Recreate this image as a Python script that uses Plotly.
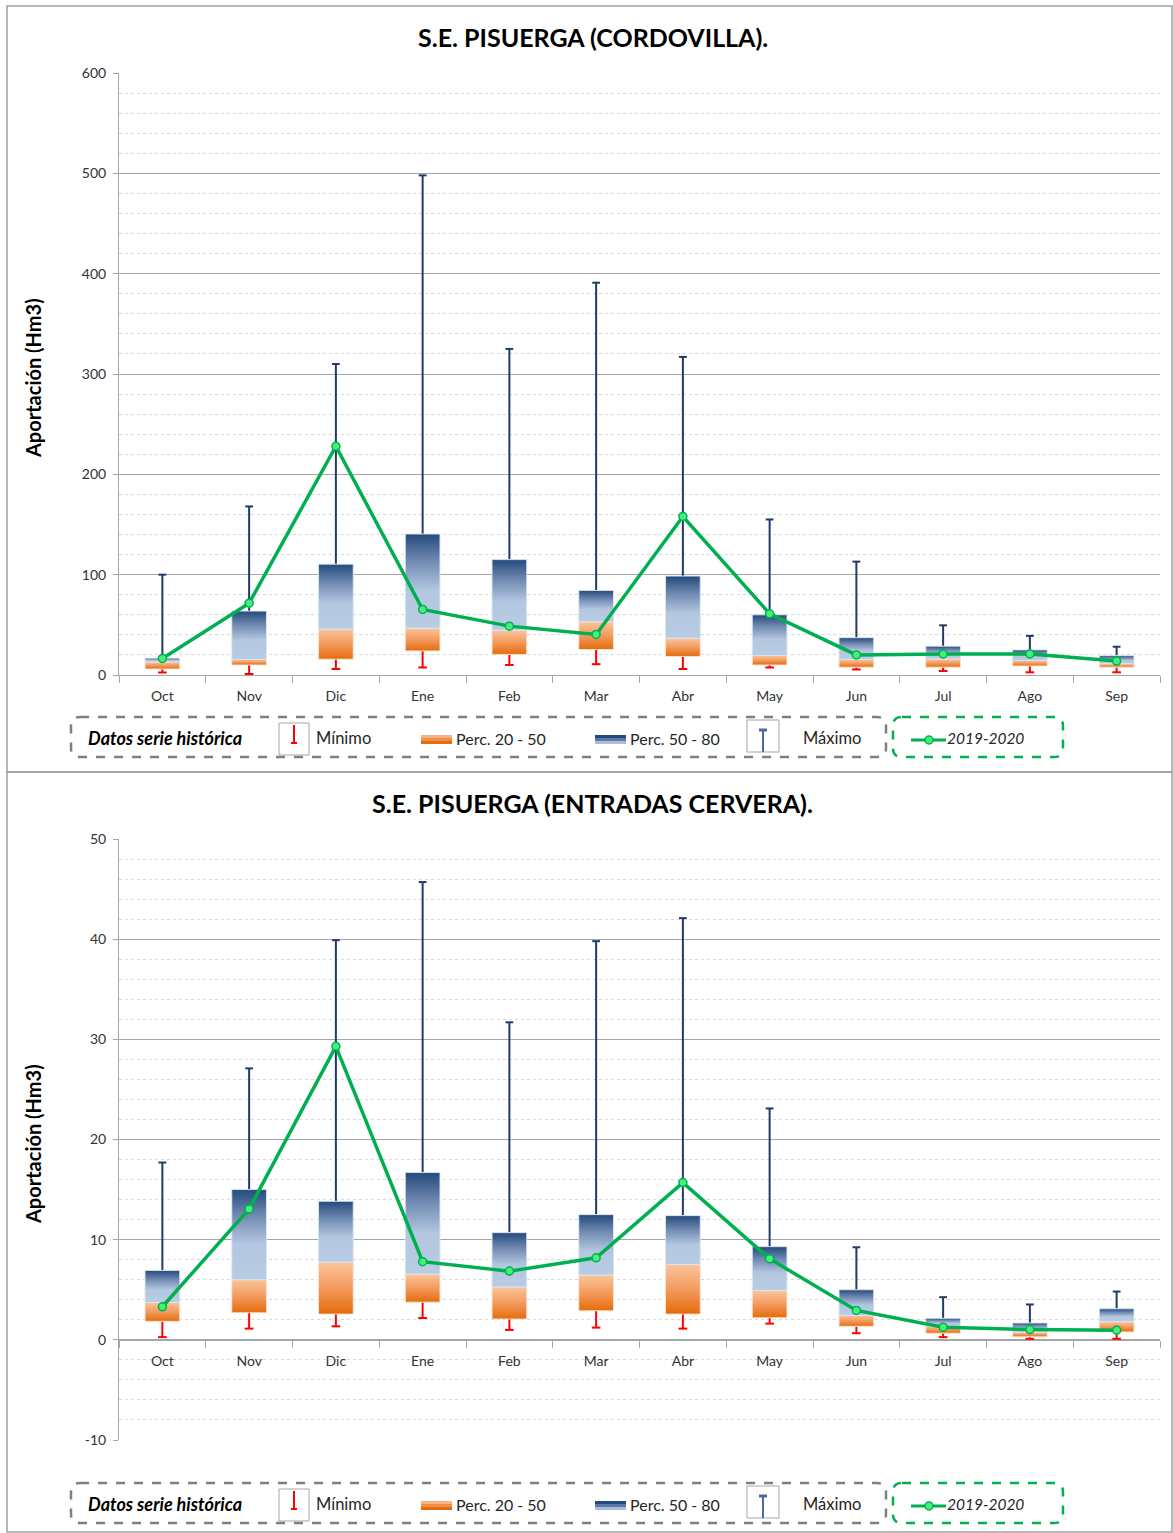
import plotly.graph_objects as go

# ---------------- DATA ----------------
months = ['Oct', 'Nov', 'Dic', 'Ene', 'Feb', 'Mar', 'Abr', 'May', 'Jun', 'Jul', 'Ago', 'Sep']

# S.E. PISUERGA (CORDOVILLA)
cord_min = [2.5, 1.0, 6.0, 7.5, 10.0, 10.8, 6.0, 7.5, 5.5, 4.0, 2.7, 2.7]
cord_p20 = [6.0, 10.0, 15.8, 24.0, 20.5, 25.4, 18.5, 10.0, 7.8, 7.8, 9.0, 7.8]
cord_p50 = [13.0, 15.5, 45.7, 46.7, 44.7, 53.0, 36.7, 19.5, 15.5, 16.0, 14.5, 11.3]
cord_p80 = [16.8, 63.7, 110.5, 140.5, 115.0, 84.3, 98.6, 60.0, 37.2, 28.7, 25.0, 19.3]
cord_max = [100.0, 168.0, 310.0, 498.0, 325.0, 391.0, 317.0, 155.0, 113.0, 49.5, 39.0, 28.2]
cord_cur = [16.5, 71.6, 228.0, 65.3, 48.7, 40.4, 158.0, 61.0, 20.0, 21.0, 21.0, 13.9]

# S.E. PISUERGA (ENTRADAS CERVERA)
cerv_min = [0.27, 1.12, 1.35, 2.18, 0.99, 1.22, 1.12, 1.62, 0.66, 0.27, 0.1, 0.1]
cerv_p20 = [1.85, 2.7, 2.57, 3.76, 2.08, 2.9, 2.57, 2.2, 1.35, 0.66, 0.3, 0.79]
cerv_p50 = [3.73, 6.0, 7.75, 6.57, 5.28, 6.47, 7.52, 4.92, 2.44, 1.35, 0.76, 1.81]
cerv_p80 = [6.93, 15.0, 13.83, 16.7, 10.7, 12.5, 12.4, 9.3, 5.0, 2.15, 1.68, 3.1]
cerv_max = [17.7, 27.1, 39.9, 45.7, 31.7, 39.8, 42.1, 23.1, 9.24, 4.26, 3.53, 4.82]
cerv_cur = [3.3, 13.07, 29.3, 7.8, 6.86, 8.19, 15.7, 8.09, 2.94, 1.26, 1.02, 0.96]

cord_yticks = [0, 100, 200, 300, 400, 500, 600]
cerv_yticks = [-10, 0, 10, 20, 30, 40, 50]
cord_ticklabels = ['0', '100', '200', '300', '400', '500', '600']
cerv_ticklabels = ['-10', '0', '10', '20', '30', '40', '50']

title_top = 'S.E. PISUERGA (CORDOVILLA).'
title_bot = 'S.E. PISUERGA (ENTRADAS CERVERA).'
ytitle = 'Aportación (Hm3)'
legend_labels = ['Datos serie histórica', 'Mínimo', 'Perc. 20 - 50', 'Perc. 50 - 80', 'Máximo', '2019-2020']

# ---------------- GEOMETRY / STYLE ----------------
W, H = 1173, 1533
ML, MR, MT, MB = 119, 13, 73, 93
PW = W - ML - MR
PH = H - MT - MB


def px(x):
    return (x - ML) / PW


def py(y):
    return 1 - (y - MT) / PH


FONT = 'Lato'
TXT = '#333333'
AXC = '#A6A6A6'
NAVY = '#1F3B66'
RED = '#FF0000'
GREEN = '#00B050'
BOX_HW = 0.2
CAP_MAX = 0.045
CAP_MIN = 0.05
ORANGE_CS = [[0, '#E46C0A'], [0.5, '#F39A5E'], [1, '#FAC59A']]
BLUE_CS = [[0, '#B8CCE4'], [0.4, '#B3C7E0'], [0.72, '#6F89B0'], [1, '#244A7E']]

fig = go.Figure()


def add_panel(xa, ya, mn, p20, p50, p80, mx, cur):
    xs = list(range(len(months)))
    wx, wy = [], []
    for i in xs:
        wx += [i, i, None, i - CAP_MAX, i + CAP_MAX, None]
        wy += [p80[i], mx[i], None, mx[i], mx[i], None]
    fig.add_trace(go.Scatter(x=wx, y=wy, mode='lines', line=dict(color=NAVY, width=2),
                             xaxis=xa, yaxis=ya, showlegend=False, hoverinfo='skip'))
    rx, ry = [], []
    for i in xs:
        rx += [i, i, None, i - CAP_MIN, i + CAP_MIN, None]
        ry += [p20[i], mn[i], None, mn[i], mn[i], None]
    fig.add_trace(go.Scatter(x=rx, y=ry, mode='lines', line=dict(color=RED, width=2),
                             xaxis=xa, yaxis=ya, showlegend=False, hoverinfo='skip'))
    for i in xs:
        bx = [i - BOX_HW, i + BOX_HW, i + BOX_HW, i - BOX_HW, i - BOX_HW]
        fig.add_trace(go.Scatter(x=bx, y=[p20[i], p20[i], p50[i], p50[i], p20[i]],
                                 mode='lines', fill='toself',
                                 fillgradient=dict(type='vertical', colorscale=ORANGE_CS),
                                 line=dict(color='rgba(252,228,210,0.9)', width=1),
                                 xaxis=xa, yaxis=ya, showlegend=False, hoverinfo='skip'))
        fig.add_trace(go.Scatter(x=bx, y=[p50[i], p50[i], p80[i], p80[i], p50[i]],
                                 mode='lines', fill='toself',
                                 fillgradient=dict(type='vertical', colorscale=BLUE_CS),
                                 line=dict(color='rgba(220,230,242,0.9)', width=1),
                                 xaxis=xa, yaxis=ya, showlegend=False, hoverinfo='skip'))
    fig.add_trace(go.Scatter(x=xs, y=cur, mode='lines+markers',
                             line=dict(color=GREEN, width=3.5),
                             marker=dict(size=8, color='#45F07A', line=dict(color=GREEN, width=1.5)),
                             xaxis=xa, yaxis=ya, showlegend=False, name='2019-2020'))


add_panel('x', 'y', cord_min, cord_p20, cord_p50, cord_p80, cord_max, cord_cur)
add_panel('x2', 'y2', cerv_min, cerv_p20, cerv_p50, cerv_p80, cerv_max, cerv_cur)

tickfont = dict(family=FONT, size=14, color=TXT)
xcommon = dict(range=[-0.5, 11.5], tickmode='array', tickvals=list(range(12)), ticktext=months,
               ticks='', showgrid=False, zeroline=False, showline=True, linecolor=AXC, linewidth=1,
               tickfont=tickfont, ticklabelstandoff=8,
               minor=dict(tickmode='array', tickvals=[k - 0.5 for k in range(13)], ticks='outside',
                          ticklen=7, tickcolor=AXC, tickwidth=1, showgrid=False))


def ycommon(tv, tt, minor_dtick):
    return dict(range=[tv[0], tv[-1]], tickmode='array', tickvals=tv, ticktext=tt,
                ticks='outside', ticklen=5, tickcolor=AXC, showgrid=True, gridcolor=AXC, gridwidth=1,
                showline=True, linecolor=AXC, zeroline=False, tickfont=tickfont, ticklabelstandoff=4,
                minor=dict(tickmode='linear', tick0=tv[0], dtick=minor_dtick, showgrid=True,
                           gridcolor='#D9D9D9', griddash='dot', gridwidth=1, ticks=''))


top_dom = [py(675), py(73)]
bot_dom = [py(1440), py(839)]
zero_pos = bot_dom[0] + (0 - cerv_yticks[0]) / (cerv_yticks[-1] - cerv_yticks[0]) * (bot_dom[1] - bot_dom[0])

fig.update_layout(
    width=W, height=H, autosize=False,
    margin=dict(l=ML, r=MR, t=MT, b=MB, pad=0),
    paper_bgcolor='white', plot_bgcolor='white',
    xaxis=dict(domain=[0, 1], anchor='y', **xcommon),
    yaxis=dict(domain=top_dom, anchor='x', **ycommon(cord_yticks, cord_ticklabels, 20)),
    xaxis2=dict(domain=[0, 1], anchor='free', position=zero_pos, **xcommon),
    yaxis2=dict(domain=bot_dom, anchor='x2', **ycommon(cerv_yticks, cerv_ticklabels, 2)),
    showlegend=False,
)

shapes = []
annotations = []

# frames
FRAME = '#A0A0A0'
shapes.append(dict(type='rect', xref='paper', yref='paper', x0=px(7), x1=px(1172), y0=py(772), y1=py(6),
                   line=dict(color=FRAME, width=1.5), layer='below'))
shapes.append(dict(type='rect', xref='paper', yref='paper', x0=px(7), x1=px(1172), y0=py(1532), y1=py(772),
                   line=dict(color=FRAME, width=1.5), layer='below'))


def rrect(x0, y0, x1, y1, r):
    rx = r / PW
    ry = r / PH
    X0, X1 = px(x0), px(x1)
    Y0, Y1 = py(y0), py(y1)  # Y0 top
    return (f'M {X0+rx},{Y0} L {X1-rx},{Y0} Q {X1},{Y0} {X1},{Y0-ry} '
            f'L {X1},{Y1+ry} Q {X1},{Y1} {X1-rx},{Y1} L {X0+rx},{Y1} '
            f'Q {X0},{Y1} {X0},{Y1+ry} L {X0},{Y0-ry} Q {X0},{Y0} {X0+rx},{Y0} Z')


def seg(x0, y0, x1, y1, color, width):
    shapes.append(dict(type='line', xref='paper', yref='paper', x0=px(x0), x1=px(x1), y0=py(y0), y1=py(y1),
                       line=dict(color=color, width=width)))


def box(x0, y0, x1, y1, fill, lc=None, lw=0):
    shapes.append(dict(type='rect', xref='paper', yref='paper', x0=px(x0), x1=px(x1), y0=py(y1), y1=py(y0),
                       fillcolor=fill, line=dict(color=lc or fill, width=lw)))


def text(x, y, s, size=16, bold=False, italic=False, anchor='left', color='#262626', angle=0):
    t = s
    if bold:
        t = f'<b>{t}</b>'
    if italic:
        t = f'<i>{t}</i>'
    annotations.append(dict(xref='paper', yref='paper', x=px(x), y=py(y), text=t, showarrow=False,
                            xanchor=anchor, yanchor='middle', textangle=angle,
                            font=dict(family=FONT, size=size, color=color)))


def panel_decor(dy, title, tcx):
    text(tcx, 37 + dy, title, size=25, bold=True, anchor='center', color='#000000')
    text(33, 378 + dy, ytitle, size=20, bold=True, anchor='center', color='#000000', angle=-90)
    ly = 737 + dy
    shapes.append(dict(type='path', xref='paper', yref='paper', path=rrect(71, ly - 20, 886, ly + 20, 9),
                       line=dict(color='#7F7F7F', width=2.5, dash='dash')))
    shapes.append(dict(type='path', xref='paper', yref='paper', path=rrect(893, ly - 20, 1063, ly + 20, 9),
                       line=dict(color=GREEN, width=2.5, dash='dash')))
    text(86, ly + 1, legend_labels[0], size=18, bold=True, italic=True, color='#000000')
    # minimo icon
    box(279, ly - 14, 309, ly + 18, 'white', '#A6A6A6', 1)
    seg(294, ly - 12, 294, ly + 6, RED, 2)
    seg(291, ly + 6, 297, ly + 6, RED, 2)
    text(314, ly + 1, legend_labels[1], size=16.5)
    # orange swatch
    box(421, ly - 2, 452, ly + 1, '#F8B383')
    box(421, ly + 1, 452, ly + 4, '#EF8F4C')
    box(421, ly + 4, 452, ly + 7, '#E46C0A')
    text(454, ly + 1, legend_labels[2], size=16)
    # blue swatch
    box(595, ly - 2, 626, ly + 1, '#244A7E')
    box(595, ly + 1, 626, ly + 4, '#5B78A5')
    box(595, ly + 4, 626, ly + 7, '#A9BEDC')
    text(628, ly + 1, legend_labels[3], size=16)
    # maximo icon
    box(747, ly - 17, 779, ly + 15, 'white', '#A6A6A6', 1)
    seg(763, ly - 7, 763, ly + 15, '#4A6A9C', 2)
    seg(759, ly - 7, 767, ly - 7, '#4A6A9C', 3)
    text(801, ly + 1, legend_labels[4], size=16.5)
    # 2019-2020
    seg(911, ly + 3, 946, ly + 3, GREEN, 3)
    shapes.append(dict(type='circle', xref='paper', yref='paper', x0=px(925), x1=px(933), y0=py(ly + 7),
                       y1=py(ly - 1), fillcolor='#45F07A', line=dict(color=GREEN, width=1.5)))
    text(945, ly + 1, legend_labels[5], size=15.5, italic=True)


panel_decor(0, title_top, 593)
panel_decor(766, title_bot, 592)

fig.update_layout(shapes=shapes, annotations=annotations)

fig.write_html('out.html', config={'displayModeBar': False},
               post_script="document.body.style.margin='0px';")
